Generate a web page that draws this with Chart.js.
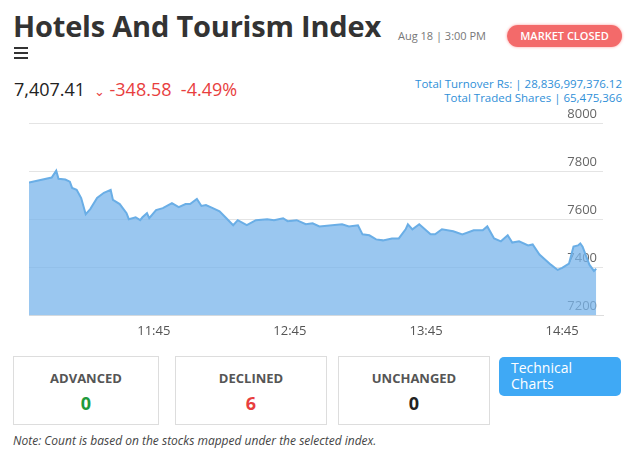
<!DOCTYPE html>
<html><head><meta charset="utf-8">
<script src="https://cdn.jsdelivr.net/npm/chart.js@4"></script>
<style>
body{margin:0;width:635px;height:450px;position:relative;font-family:"Open Sans",sans-serif;background:#fff;overflow:hidden}
.a{position:absolute}
h1{position:absolute;left:13px;top:6px;margin:0;font:bold 29px "Open Sans",sans-serif;color:#333;letter-spacing:-0.2px}
.box{position:absolute;top:356px;height:69px;border:1px solid #ddd;text-align:center;box-sizing:border-box}
.box b{display:block;font:bold 13px "Open Sans";color:#555;margin-top:12px}
.box span{display:block;font:bold 18px "Open Sans";margin-top:4px}
</style></head><body>
<h1>Hotels And Tourism Index</h1>
<div class="a" style="left:398px;top:28px;font-size:11px;color:#777">Aug 18 | 3:00 PM</div>
<div class="a" style="left:507px;top:25px;width:115px;height:22px;line-height:22px;border-radius:11px;background:#f36a6a;color:#fff;font-size:11px;font-weight:600;text-align:center;box-shadow:0 0 3px #f99">MARKET CLOSED</div>
<div class="a" style="left:14px;top:47px;width:14px;height:12px;border-top:2px solid #333;border-bottom:2px solid #333;box-sizing:border-box"><div style="margin-top:3px;border-top:2px solid #333"></div></div>
<div class="a" style="left:14px;top:77px;font-size:18px;color:#222">7,407.41 <span style="color:#e83e3e;font-size:13px;margin-left:4px">&#8964;</span> <span style="color:#e83e3e">-348.58&nbsp;&nbsp;-4.49%</span></div>
<div class="a" style="right:13px;top:77px;font-size:11.5px;color:#2f8fd8;text-align:right;line-height:14px">Total Turnover Rs: | 28,836,997,376.12<br>Total Traded Shares | 65,475,366</div>
<div class="a" style="left:0;top:105px;width:635px;height:234px"><canvas id="c"></canvas></div>
<div class="box" style="left:13px;width:146px"><b>ADVANCED</b><span style="color:#1e9a3c">0</span></div>
<div class="box" style="left:175px;width:152px"><b>DECLINED</b><span style="color:#e83e3e">6</span></div>
<div class="box" style="left:338px;width:152px"><b>UNCHANGED</b><span style="color:#222">0</span></div>
<div class="a" style="left:499px;top:357px;width:122px;height:39px;background:#3fa9f5;border-radius:5px;color:#fff;font-size:14px;line-height:16px;box-sizing:border-box;padding:3px 12px">Technical Charts</div>
<div class="a" style="left:13px;top:432px;font-size:12px;font-style:italic;color:#444">Note: Count is based on the stocks mapped under the selected index.</div>
<script>
// minutes since midnight
var times = [650,660,662,663,666,668,669,671,673,675,677,680,683,686,687,690,693,694,697,699,700,702,703,706,709,713,716,719,721,724,726,728,731,734,737,740,742,746,750,755,758,762,764,768,772,775,778,788,791,795,797,800,803,806,810,813,816,817,819,822,827,829,832,837,841,846,850,852,855,858,861,863,866,870,872,875,880,883,885,888,890,892,893,894,897,899,900];
var values = [7753,7773,7802,7768,7765,7756,7730,7722,7688,7621,7642,7688,7710,7722,7680,7663,7625,7600,7608,7596,7608,7625,7604,7638,7646,7667,7650,7663,7663,7684,7655,7659,7646,7633,7604,7575,7596,7575,7596,7600,7596,7604,7592,7596,7579,7583,7570,7579,7570,7575,7537,7533,7516,7512,7520,7520,7558,7579,7558,7579,7537,7537,7558,7550,7537,7554,7554,7570,7520,7508,7533,7503,7508,7491,7495,7453,7411,7389,7398,7415,7486,7491,7499,7486,7411,7385,7394,7407];
var xTicks = [705,765,825,885];
var yTicks = [7200,7400,7600,7800,8000];

var pts = times.map(function(t,i){return {x:t,y:values[i]};});
new Chart(document.getElementById('c'), {
    type: 'line',
    data: { datasets: [{
        data: pts,
        borderColor: '#6aaee6',
        backgroundColor: 'rgba(120,180,235,0.75)',
        borderWidth: 2, pointRadius: 0, fill: 'start', tension: 0
    }]},
    options: {
        animation: false, responsive: true, maintainAspectRatio: false,
        layout: { padding: { left: 29, right: 32, top: 18 } },
        plugins: { legend: { display: false }, tooltip: { enabled: false } },
        scales: {
            x: { type: 'linear', min: 650, max: 903,
                afterBuildTicks: function(a){ a.ticks = xTicks.map(function(v){return {value:v};}); },
                ticks: { color: '#555', font: { size: 13, family: 'Open Sans' }, padding: 0,
                    callback: function(v){ var h=Math.floor(v/60), m=v%60; return h+':'+(m<10?'0':'')+m; } },
                grid: { display: false },
                border: { color: '#ddd' }
            },
            y: { position: 'right', min: 7200, max: 8000,
                afterBuildTicks: function(a){ a.ticks = yTicks.map(function(v){return {value:v};}); },
                ticks: { color: '#666', font: { size: 13, family: 'Open Sans' }, mirror: true, padding: -6, labelOffset: -9,
                    callback: function(v){ return String(v); } },
                grid: { color: '#e4e4e4', drawTicks: false },
                border: { display: false }
            }
        }
    }
});
</script>
</body></html>
